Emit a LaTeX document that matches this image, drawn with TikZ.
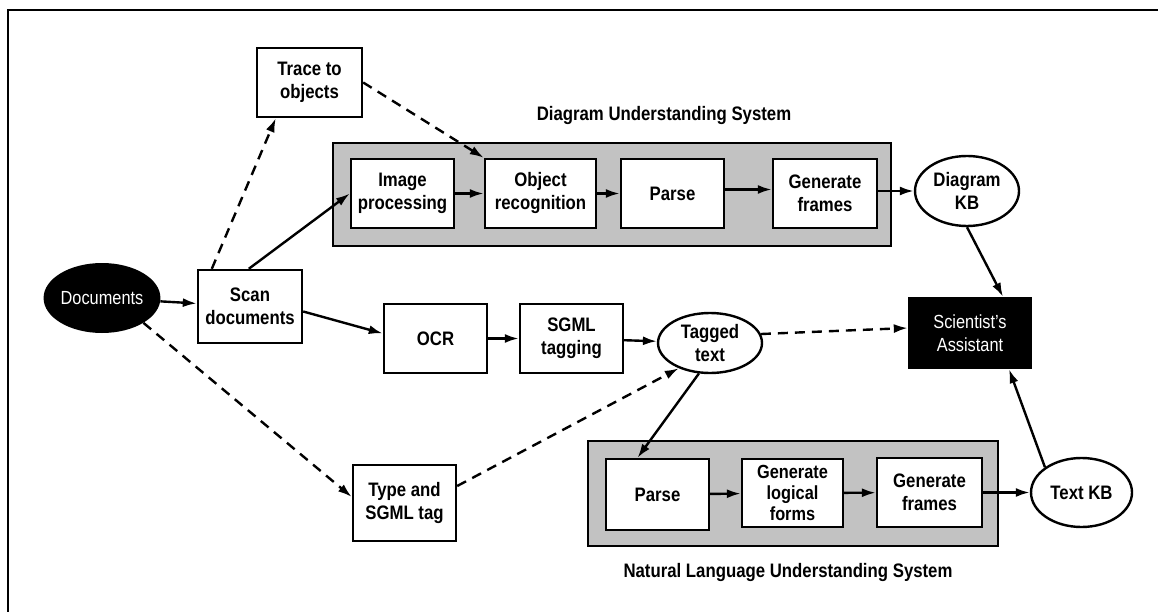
\documentclass[tikz,border=0pt]{standalone}
\usepackage{fontspec}
\setmainfont{Liberation Sans}[FakeStretch=0.86]
\usetikzlibrary{arrows.meta,shapes.geometric,calc}
\begin{document}
\begin{tikzpicture}[x=1pt,y=-1pt,
  every node/.style={font=\fontsize{19.5}{23}\selectfont\bfseries, align=center, inner sep=0pt},
  box/.style={draw, line width=2.4pt, fill=white, rectangle},
  shadebox/.style={draw, line width=2.6pt, fill=black!24, rectangle},
  ell/.style={draw, line width=2.4pt, fill=white, ellipse},
  dark/.style={fill=black, text=white, font=\fontsize{19}{23}\selectfont},
  arr/.style={line width=2.4pt, -{Latex[length=14pt,width=9pt]}},
  darr/.style={arr, dash pattern=on 10pt off 7pt},
  lbl/.style={font=\fontsize{19.5}{23}\selectfont\bfseries}
]
\useasboundingbox (0,0) rectangle (1158,612);
% page frame (top and left only visible)
\draw[line width=1.4pt] (8,612) -- (8,10) -- (1158,10);

% shaded system boxes
\node[shadebox, minimum width=558pt, minimum height=103pt] (dus) at (612,194.5) {};
\node[shadebox, minimum width=410pt, minimum height=105pt] (nlu) at (793,493.5) {};
\node[lbl] (dustitle) at (664,116) {Diagram Understanding System};
\node[lbl] (nlutitle) at (788,572) {Natural Language Understanding System};

% nodes
\node[box, minimum width=105pt, minimum height=69pt] (trace) at (309.5,82.5) {Trace to\\objects};
\node[box, minimum width=103pt, minimum height=69pt] (img) at (402.5,193.5) {Image\\processing};
\node[box, minimum width=111pt, minimum height=69pt] (obj) at (540.5,193.5) {Object\\recognition};
\node[box, minimum width=103pt, minimum height=69pt] (parsea) at (672.5,193.5) {Parse};
\node[box, minimum width=104pt, minimum height=69pt] (gena) at (825,193.5) {Generate\\frames};
\node[ell, minimum width=104pt, minimum height=70pt] (dkb) at (967,191) {Diagram\\KB};
\node[ellipse, dark, minimum width=115pt, minimum height=70pt] (docs) at (102,298) {Documents};
\node[box, minimum width=104pt, minimum height=73pt] (scan) at (250,306.5) {Scan\\documents};
\node[box, minimum width=103pt, minimum height=69pt] (ocr) at (435.5,338.5) {OCR};
\node[box, minimum width=103pt, minimum height=69pt] (sgml) at (571.5,338.5) {SGML\\tagging};
\node[ell, minimum width=104pt, minimum height=60pt] (tagged) at (710,343) {Tagged\\text};
\node[rectangle, dark, minimum width=124pt, minimum height=72pt] (sa) at (970,333) {Scientist's\\Assistant};
\node[box, minimum width=103pt, minimum height=76pt] (type) at (404.5,503) {Type and\\SGML tag};
\node[box, minimum width=103pt, minimum height=71pt] (parseb) at (657.5,494.5) {Parse};
\node[box, minimum width=101pt, minimum height=68pt, font=\fontsize{19}{21}\selectfont\bfseries] (logic) at (792.5,493) {Generate\\logical\\forms};
\node[box, minimum width=105pt, minimum height=69pt] (genb) at (929.5,492.5) {Generate\\frames};
\node[ell, minimum width=101pt, minimum height=69pt] (tkb) at (1081.5,492.5) {Text KB};

% connectors
\draw[arr] (docs) -- (scan);
\draw[darr] ([xshift=15pt]scan.north west) -- ([xshift=20pt]trace.south west);
\draw[arr] ([xshift=52pt]scan.north west) -- (img.west);
\draw[darr] (trace.east) -- (obj.north west);
\draw[arr] (img) -- (obj);
\draw[arr] (obj) -- (parsea);
\draw[arr] ([yshift=4pt]parsea.east) -- ([yshift=4pt]gena.west);
\draw[arr] (gena.east |- dkb.west) -- (dkb.west);
\draw[arr] (dkb.south) -- ([xshift=33pt]sa.north);
\draw[arr] ([yshift=-5pt]scan.east) -- ([yshift=5pt]ocr.west);
\draw[arr] (ocr) -- (sgml);
\draw[arr] (sgml) -- (tagged);
\draw[darr] (docs.south east) -- ([yshift=6pt]type.west);
\draw[darr] ([yshift=17pt]type.east) -- (tagged.-141);
\draw[arr] (tagged.-110) -- ([xshift=-20pt]parseb.north);
\draw[darr] (tagged.10) -- ([yshift=5pt]sa.west);
\draw[arr] (parseb) -- (logic);
\draw[arr] (logic) -- (genb);
\draw[arr] (genb) -- (tkb);
\draw[arr] (tkb.north west) -- ([xshift=39pt]sa.south);
\end{tikzpicture}
\end{document}
